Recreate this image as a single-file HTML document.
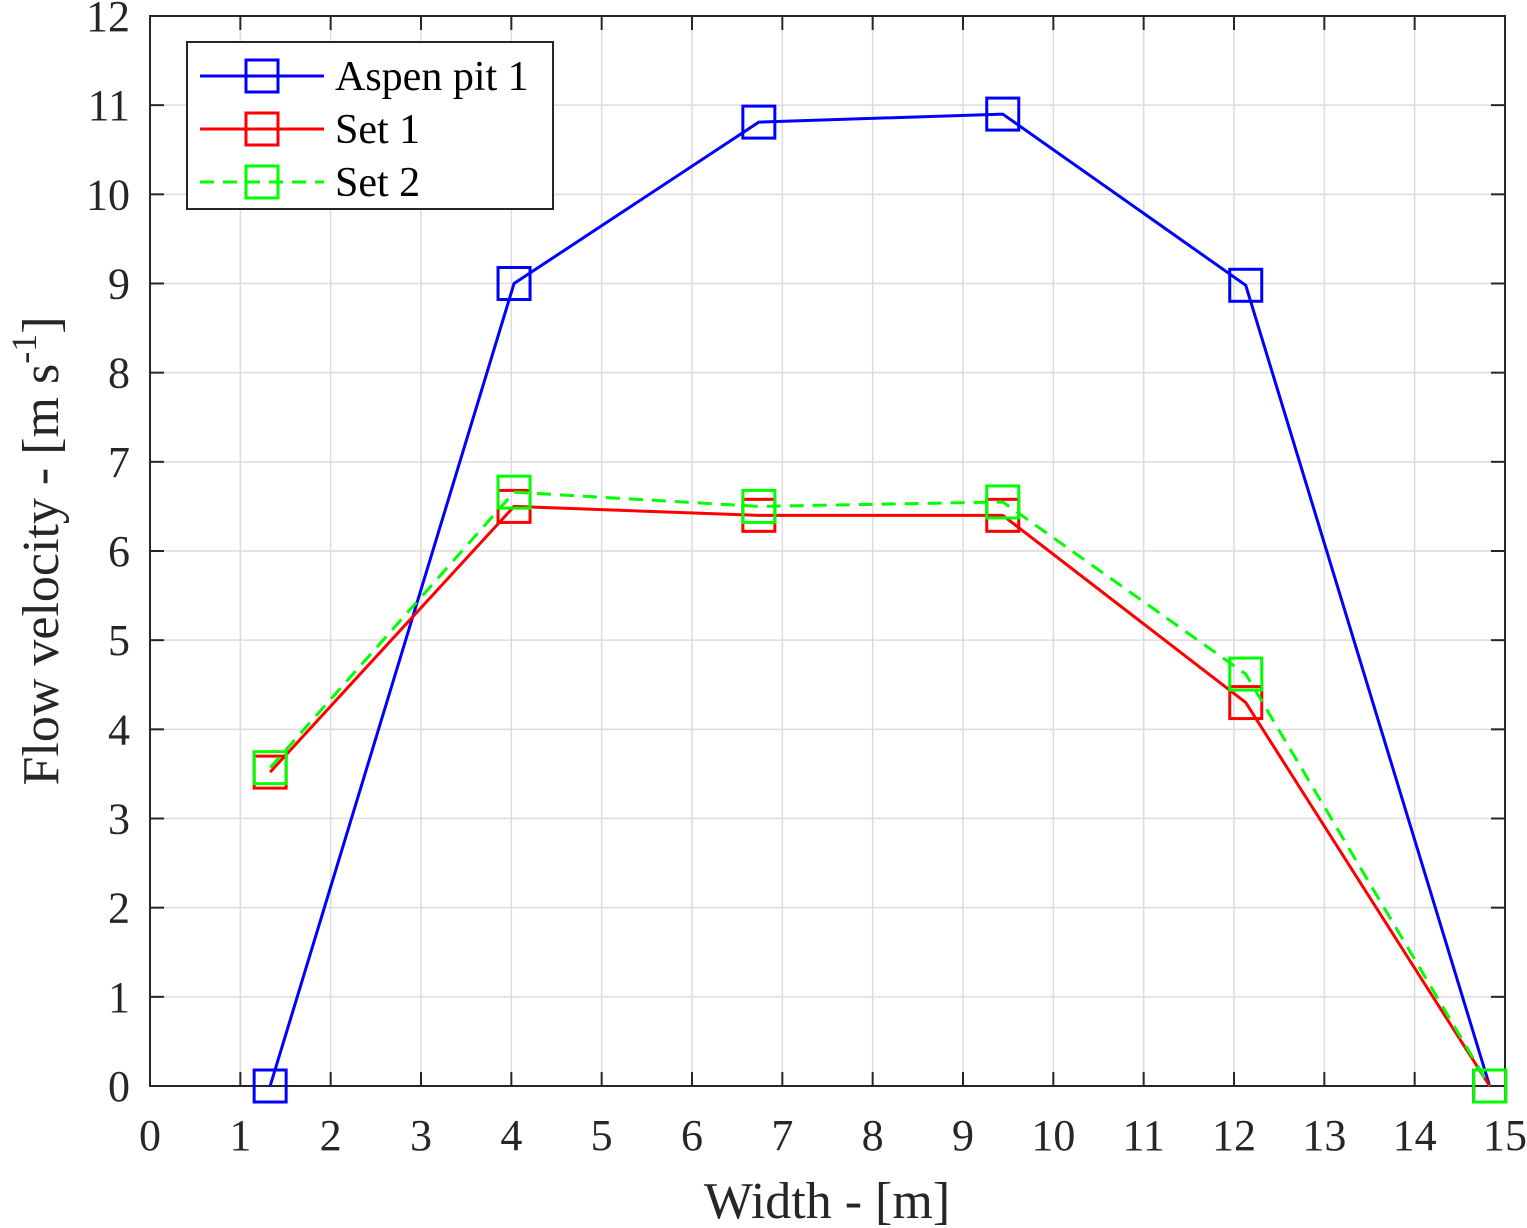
<!DOCTYPE html>
<html><head><meta charset="utf-8"><style>body{margin:0;background:#fff}svg{display:block}text{font-family:"Liberation Serif","Times New Roman",serif}</style></head>
<body>
<svg id="chart" width="1527" height="1228"></svg>
<script>
const xTicks=[0,1,2,3,4,5,6,7,8,9,10,11,12,13,14,15];
const yTicks=[0,1,2,3,4,5,6,7,8,9,10,11,12];
const widths=[1.33,4.03,6.74,9.44,12.13,14.83];
const aspen=[0,9.0,10.81,10.9,8.98,0];
const set1=[3.52,6.5,6.4,6.4,4.3,0];
const set2=[3.57,6.66,6.5,6.55,4.62,0];
const L=150,R=1505,T=16,B=1086;
const sx=v=>L+(R-L)*v/15, sy=v=>B-(B-T)*v/12;
const NS="http://www.w3.org/2000/svg", svg=document.getElementById('chart');
const FF='"Liberation Serif","Times New Roman",serif';
function mk(t,a,p){const e=document.createElementNS(NS,t);for(const k in a)e.setAttribute(k,a[k]);if(t==='text')e.setAttribute('font-family',FF);(p||svg).appendChild(e);return e;}
mk('rect',{x:L,y:T,width:R-L,height:B-T,fill:'#fff'});
xTicks.forEach(v=>{const g=mk('line',{x1:sx(v),x2:sx(v),y1:T,y2:B,stroke:'#dcdcdc','stroke-width':1.5});

mk('line',{x1:sx(v),x2:sx(v),y1:B,y2:B-14,stroke:'#262626','stroke-width':2});mk('line',{x1:sx(v),x2:sx(v),y1:T,y2:T+14,stroke:'#262626','stroke-width':2});
const t=mk('text',{x:sx(v),y:B+64,'text-anchor':'middle','font-size':44,fill:'#262626'});t.textContent=v;
});
yTicks.forEach(v=>{const g=mk('line',{x1:L,x2:R,y1:sy(v),y2:sy(v),stroke:'#dcdcdc','stroke-width':1.5});

mk('line',{x1:L,x2:L+14,y1:sy(v),y2:sy(v),stroke:'#262626','stroke-width':2});mk('line',{x1:R,x2:R-14,y1:sy(v),y2:sy(v),stroke:'#262626','stroke-width':2});
const t=mk('text',{x:L-20,y:sy(v)+15,'text-anchor':'end','font-size':44,fill:'#262626'});t.textContent=v;
});
mk('rect',{x:L,y:T,width:R-L,height:B-T,fill:'none',stroke:'#262626','stroke-width':2});
function series(vals,color,dash,name){
 const p=mk('polyline',{points:widths.map((x,i)=>sx(x)+','+sy(vals[i])).join(' '),fill:'none',stroke:color,'stroke-width':3,'stroke-dasharray':dash||''});
 
 widths.forEach((x,i)=>{const r=mk('rect',{x:sx(x)-16,y:sy(vals[i])-16,width:32,height:32,fill:'none',stroke:color,'stroke-width':3});
 });
}
series(aspen,'#0000ff','','aspen-pit-1');
series(set1,'#ff0000','','set-1');
series(set2,'#00ff00','14,9','set-2');
const lg=mk('g',{});
mk('rect',{x:187,y:42,width:366,height:167,fill:'#fff',stroke:'#262626','stroke-width':2},lg);
[['Aspen pit 1','#0000ff','',76],['Set 1','#ff0000','',129],['Set 2','#00ff00','14,9',182]].forEach(([n,c,d,y])=>{
 mk('line',{x1:200,x2:324,y1:y,y2:y,stroke:c,'stroke-width':3,'stroke-dasharray':d},lg);
 mk('rect',{x:246,y:y-16,width:32,height:32,fill:'none',stroke:c,'stroke-width':3},lg);
 const t=mk('text',{x:335,y:y+14,'font-size':42,fill:'#000'},lg);t.textContent=n;
 });
const xl=mk('text',{x:827,y:1218,'text-anchor':'middle','font-size':52,fill:'#262626'});xl.textContent='Width - [m]';

const yl=mk('text',{transform:'translate(58,551) rotate(-90)','text-anchor':'middle','font-size':52,fill:'#262626'});
yl.innerHTML='Flow velocity - [m s<tspan dy="-22" font-size="36">-1</tspan><tspan dy="22">]</tspan>';

</script>
</body></html>
